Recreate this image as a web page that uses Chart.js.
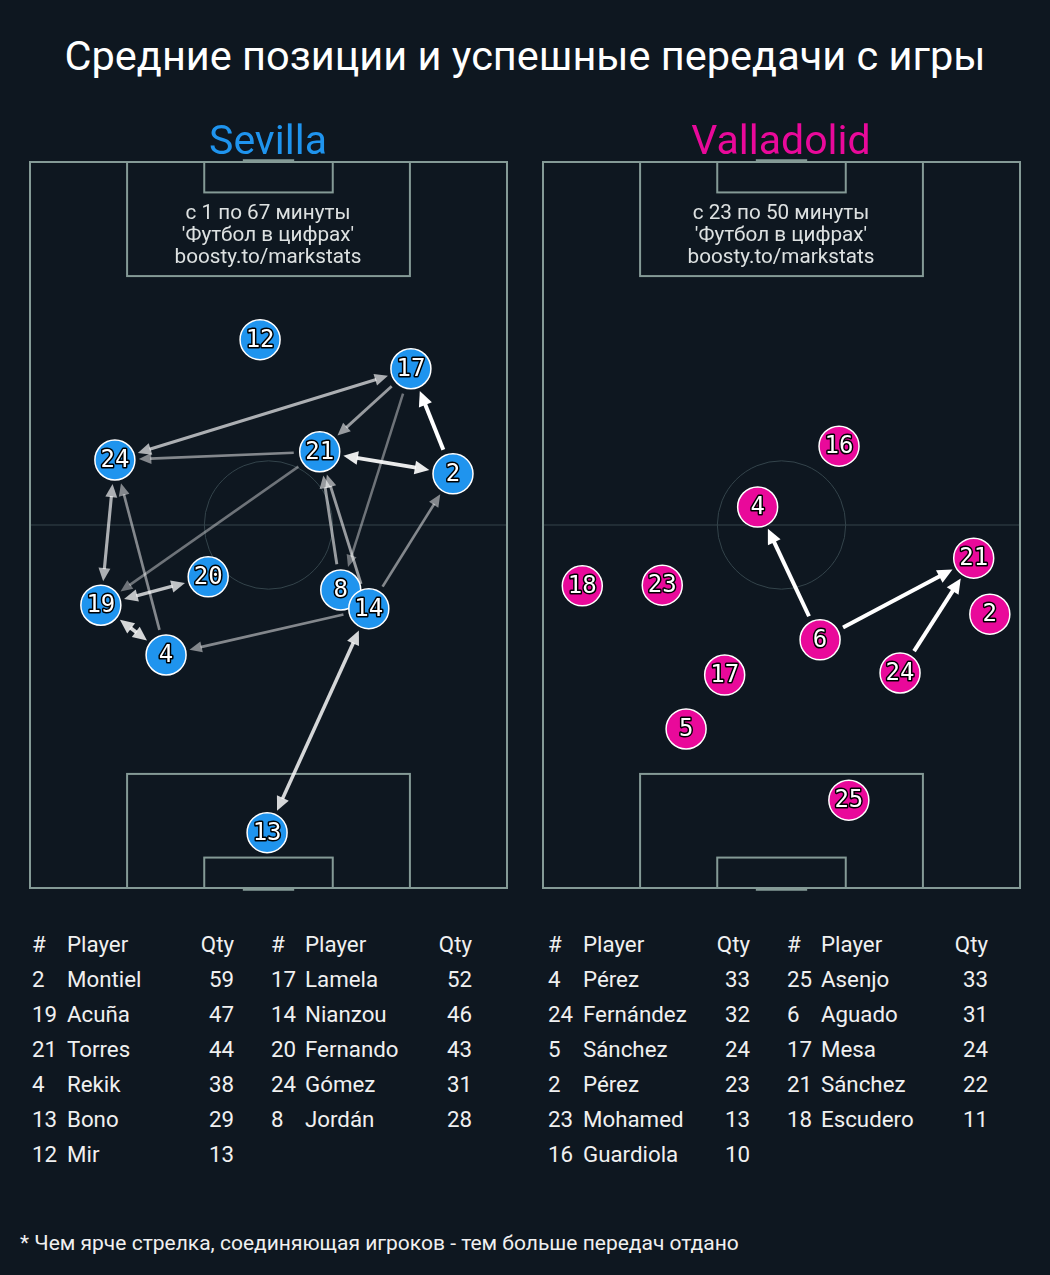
<!DOCTYPE html>
<html>
<head>
<meta charset="utf-8">
<script src="https://cdn.jsdelivr.net/npm/chart.js@4.4.1/dist/chart.umd.min.js"></script>
<style>
  body { margin: 0; background: #0e1720; width: 1050px; height: 1275px; overflow: hidden; font-family: Roboto, sans-serif; color: #fff; }
  .abs { position: absolute; white-space: nowrap; line-height: 1; }
  .pitch { position: absolute; top: 152px; width: 497px; height: 746px; }
</style>
</head>
<body>
<div class="pitch" style="left:20px"><canvas id="sevChart" width="497" height="746"></canvas></div>
<div class="pitch" style="left:533px"><canvas id="vllChart" width="497" height="746"></canvas></div>

<script>
// --- DATOS: posiciones medias (metros, campo 68 x 105, y=0 propia porteria) ---
const sevNumbers = [12, 17, 24, 21, 2, 20, 19, 8, 14, 4, 13];
const sevX = [32.8, 54.3, 12.1, 41.3, 60.3, 25.4, 10.1, 44.3, 48.3, 19.4, 33.8];
const sevY = [79.3, 75.1, 61.9, 63.1, 59.9, 45.0, 40.9, 43.1, 40.4, 33.7, 8.0];

const vllNumbers = [16, 4, 21, 18, 23, 2, 6, 24, 17, 5, 25];
const vllX = [42.2, 30.6, 61.4, 5.6, 17.0, 63.7, 39.5, 50.9, 25.9, 20.4, 43.6];
const vllY = [63.9, 55.1, 47.7, 43.7, 43.8, 39.6, 35.9, 31.1, 30.8, 23.0, 12.7];

// --- PASES (de, a, cantidad) ---
const sevPassFrom  = [2, 2, 21, 13, 14, 19, 4, 20, 19, 24, 19, 24, 17, 17, 8, 14, 4, 21, 14, 14, 17, 21];
const sevPassTo    = [17, 21, 2, 14, 13, 4, 19, 19, 20, 19, 24, 17, 24, 21, 21, 21, 24, 24, 4, 2, 8, 19];
const sevPassCount = [10, 9, 9, 8, 8, 8, 8, 7, 7, 6, 6, 6, 6, 5, 5, 5, 4, 4, 4, 4, 3, 3];

const vllPassFrom  = [6, 6, 24];
const vllPassTo    = [4, 21, 21];
const vllPassCount = [10, 10, 10];

// --- TABLAS ---
const sevTableNum  = [2, 19, 21, 4, 13, 12, 17, 14, 20, 24, 8];
const sevTableName = ['Montiel', 'Acuña', 'Torres', 'Rekik', 'Bono', 'Mir', 'Lamela', 'Nianzou', 'Fernando', 'Gómez', 'Jordán'];
const sevTableQty  = [59, 47, 44, 38, 29, 13, 52, 46, 43, 31, 28];

const vllTableNum  = [4, 24, 5, 2, 23, 16, 25, 6, 17, 21, 18];
const vllTableName = ['Pérez', 'Fernández', 'Sánchez', 'Pérez', 'Mohamed', 'Guardiola', 'Asenjo', 'Aguado', 'Mesa', 'Sánchez', 'Escudero'];
const vllTableQty  = [33, 32, 24, 23, 13, 10, 33, 31, 24, 22, 11];

const SEV_COLOR = '#1f94ee';
const VLL_COLOR = '#e9099a';
const LINE_COLOR = '#849a96';
const DIM_LINE = '#34444b';
const R = 20;

// --- TEXTO HTML ---
function addText(text, x, baseline, size, color, align) {
    const el = document.createElement('div');
    el.className = 'abs';
    el.textContent = text;
    el.style.fontSize = size + 'px';
    el.style.color = color;
    el.style.top = (baseline - 0.8415 * size) + 'px';
    el.style.left = x + 'px';
    if (align === 'center') el.style.transform = 'translateX(-50%)';
    if (align === 'right') el.style.transform = 'translateX(-100%)';
    document.body.appendChild(el);
}

addText('Средние позиции и успешные передачи с игры', 525, 70, 41.5, '#ffffff', 'center');
addText('Sevilla', 268, 155, 41, SEV_COLOR, 'center');
addText('Valladolid', 781, 155, 41, VLL_COLOR, 'center');

['с 1 по 67 минуты', "'Футбол в цифрах'", 'boosty.to/markstats'].forEach((t, i) => addText(t, 268, 219 + i * 22, 20.7, '#dde1e1', 'center'));
['с 23 по 50 минуты', "'Футбол в цифрах'", 'boosty.to/markstats'].forEach((t, i) => addText(t, 781, 219 + i * 22, 20.7, '#dde1e1', 'center'));

function addTable(nums, names, qtys, numX, nameX, qtyX) {
    const fs = 22.3, col = '#f0f0f0';
    addText('#', numX, 952, fs, col, 'left');
    addText('Player', nameX, 952, fs, col, 'left');
    addText('Qty', qtyX, 952, fs, col, 'right');
    nums.forEach((n, i) => {
        const y = 952 + (i + 1) * 35;
        addText(String(n), numX, y, fs, col, 'left');
        addText(names[i], nameX, y, fs, col, 'left');
        addText(String(qtys[i]), qtyX, y, fs, col, 'right');
    });
}
addTable(sevTableNum.slice(0, 6), sevTableName.slice(0, 6), sevTableQty.slice(0, 6), 32, 67, 234);
addTable(sevTableNum.slice(6), sevTableName.slice(6), sevTableQty.slice(6), 271, 305, 472);
addTable(vllTableNum.slice(0, 6), vllTableName.slice(0, 6), vllTableQty.slice(0, 6), 548, 583, 750);
addTable(vllTableNum.slice(6), vllTableName.slice(6), vllTableQty.slice(6), 787, 821, 988);

addText('* Чем ярче стрелка, соединяющая игроков - тем больше передач отдано', 20, 1251, 21, '#f0f0f0', 'left');

// --- DIBUJO DEL CAMPO ---
function drawPitch(ctx, xs, ys) {
    const px = v => xs.getPixelForValue(v);
    const py = v => ys.getPixelForValue(v);
    const rect = (x0, y0, x1, y1) => {
        ctx.strokeRect(px(x0), py(y1), px(x1) - px(x0), py(y0) - py(y1));
    };
    ctx.save();
    // linea media y circulo
    ctx.strokeStyle = DIM_LINE;
    ctx.lineWidth = 1;
    ctx.beginPath();
    ctx.moveTo(px(0), py(52.5));
    ctx.lineTo(px(68), py(52.5));
    ctx.stroke();
    ctx.beginPath();
    ctx.arc(px(34), py(52.5), px(9.15) - px(0), 0, Math.PI * 2);
    ctx.stroke();

    ctx.strokeStyle = LINE_COLOR;
    ctx.lineWidth = 2;
    rect(0, 0, 68, 105);
    rect(13.84, 0, 54.16, 16.5);
    rect(13.84, 88.5, 54.16, 105);
    rect(24.84, 0, 43.16, 4.4);
    rect(24.84, 100.6, 43.16, 105);
    ctx.lineWidth = 2.5;
    ctx.beginPath();
    ctx.moveTo(px(30.34), py(105) - 1.5); ctx.lineTo(px(37.66), py(105) - 1.5);
    ctx.moveTo(px(30.34), py(0) + 1.5); ctx.lineTo(px(37.66), py(0) + 1.5);
    ctx.stroke();
    ctx.restore();
}

function passStyle(count) {
    const t = Math.max(0, Math.min(1, (count - 3) / 7));
    return { alpha: 0.4 + 0.6 * t, width: 2.5 + 1.5 * t };
}

function drawPasses(ctx, xs, ys, numbers, X, Y, from, to, counts) {
    const pos = {};
    numbers.forEach((n, i) => { pos[n] = { x: xs.getPixelForValue(X[i]), y: ys.getPixelForValue(Y[i]) }; });
    const pairs = {};
    from.forEach((f, i) => {
        const t = to[i];
        const key = Math.min(f, t) + '-' + Math.max(f, t);
        if (!pairs[key]) pairs[key] = { a: f, b: t, count: 0, heads: [] };
        pairs[key].count = Math.max(pairs[key].count, counts[i]);
        pairs[key].heads.push(t);
    });
    const list = Object.values(pairs).sort((p, q) => p.count - q.count);
    ctx.save();
    list.forEach(p => {
        const st = passStyle(p.count);
        const A = pos[p.a], B = pos[p.b];
        const dx = B.x - A.x, dy = B.y - A.y;
        const len = Math.hypot(dx, dy);
        const ux = dx / len, uy = dy / len;
        const headLen = 2 * st.width + 7;
        const halfW = 1.2 * st.width + 2.2;
        const headA = p.heads.includes(p.a), headB = p.heads.includes(p.b);
        const s0 = headA ? R + 4 + headLen - 1 : R + 6;
        const s1 = headB ? R + 4 + headLen - 1 : R + 6;
        ctx.strokeStyle = `rgba(255,255,255,${st.alpha})`;
        ctx.fillStyle = `rgba(255,255,255,${st.alpha})`;
        ctx.lineWidth = st.width;
        ctx.beginPath();
        ctx.moveTo(A.x + ux * s0, A.y + uy * s0);
        ctx.lineTo(B.x - ux * s1, B.y - uy * s1);
        ctx.stroke();
        const head = (P, sx, sy) => {
            const tx = P.x + sx * (R + 4), ty = P.y + sy * (R + 4);
            const bx = tx + sx * headLen, by = ty + sy * headLen;
            ctx.beginPath();
            ctx.moveTo(tx, ty);
            ctx.lineTo(bx - sy * halfW, by + sx * halfW);
            ctx.lineTo(bx + sy * halfW, by - sx * halfW);
            ctx.closePath();
            ctx.fill();
        };
        if (headB) head(B, -ux, -uy);
        if (headA) head(A, ux, uy);
    });
    ctx.restore();
}

function drawNumbers(chart, numbers) {
    const ctx = chart.ctx;
    const meta = chart.getDatasetMeta(0);
    ctx.save();
    ctx.font = '24px "DejaVu Sans Mono"';
    ctx.textAlign = 'center';
    ctx.textBaseline = 'middle';
    ctx.lineJoin = 'round';
    meta.data.forEach((el, i) => {
        const t = String(numbers[i]);
        ctx.strokeStyle = '#000';
        ctx.lineWidth = 3;
        ctx.strokeText(t, el.x, el.y + 1);
        ctx.fillStyle = '#fff';
        ctx.fillText(t, el.x, el.y + 1);
    });
    ctx.restore();
}

function createPitchChart(id, numbers, X, Y, from, to, counts, color) {
    const ctx = document.getElementById(id).getContext('2d');
    const points = numbers.map((n, i) => ({ x: X[i], y: Y[i] }));
    const pitchPlugin = {
        id: 'pitch_' + id,
        beforeDatasetsDraw(chart) {
            const xs = chart.scales.x, ys = chart.scales.y;
            drawPitch(chart.ctx, xs, ys);
            drawPasses(chart.ctx, xs, ys, numbers, X, Y, from, to, counts);
        },
        afterDatasetsDraw(chart) {
            drawNumbers(chart, numbers);
        }
    };
    return new Chart(ctx, {
        type: 'scatter',
        data: {
            datasets: [{
                data: points,
                backgroundColor: color,
                borderColor: '#ffffff',
                borderWidth: 1.5,
                pointRadius: R,
                pointHoverRadius: R,
                clip: false
            }]
        },
        options: {
            responsive: false,
            maintainAspectRatio: false,
            animation: false,
            events: [],
            layout: { padding: 10, autoPadding: false },
            scales: {
                x: { type: 'linear', min: 0, max: 68, display: false },
                y: { type: 'linear', min: 0, max: 105, display: false }
            },
            plugins: { legend: { display: false }, tooltip: { enabled: false } }
        },
        plugins: [pitchPlugin]
    });
}

createPitchChart('sevChart', sevNumbers, sevX, sevY, sevPassFrom, sevPassTo, sevPassCount, SEV_COLOR);
createPitchChart('vllChart', vllNumbers, vllX, vllY, vllPassFrom, vllPassTo, vllPassCount, VLL_COLOR);
</script>
</body>
</html>
